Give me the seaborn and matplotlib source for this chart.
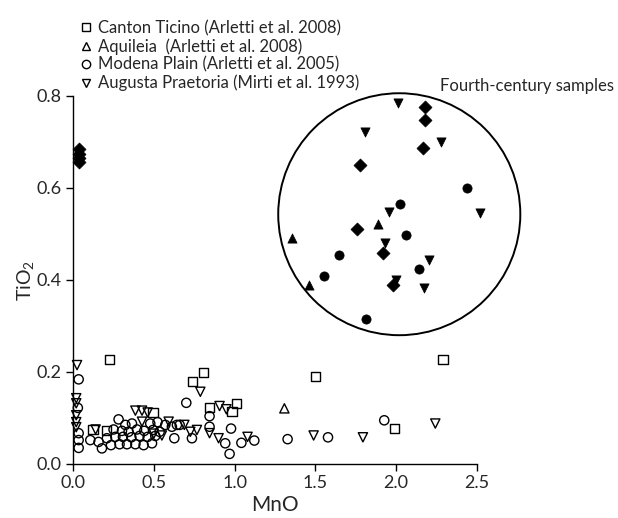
import matplotlib
matplotlib.use("Agg")
import matplotlib.pyplot as plt
import seaborn as sns
import pandas as pd
from matplotlib.patches import Ellipse
from matplotlib.lines import Line2D

# ---- data ----
canton_mno = [0.227, 0.808, 0.740, 1.010, 0.845, 0.984, 0.495, 0.124, 0.206, 1.500, 2.290, 1.990]
canton_tio2 = [0.228, 0.199, 0.179, 0.132, 0.123, 0.114, 0.112, 0.075, 0.072, 0.191, 0.228, 0.077]

aquileia_mno = [1.308]
aquileia_tio2 = [0.121]

modena_mno = [0.035, 0.030, 0.035, 0.035, 0.035, 0.107, 0.158, 0.179, 0.210, 0.235, 0.251, 0.262,
              0.282, 0.288, 0.303, 0.309, 0.324, 0.334, 0.344, 0.361, 0.365, 0.386, 0.396, 0.412,
              0.437, 0.441, 0.462, 0.478, 0.489, 0.495, 0.509, 0.523, 0.536, 0.571, 0.612, 0.627,
              0.643, 0.660, 0.701, 0.736, 0.845, 0.845, 0.978, 0.942, 0.969, 1.042, 1.122, 1.328,
              1.578, 1.926]
modena_tio2 = [0.184, 0.122, 0.067, 0.052, 0.035, 0.052, 0.048, 0.034, 0.056, 0.041, 0.075, 0.059,
               0.097, 0.043, 0.072, 0.059, 0.085, 0.043, 0.070, 0.058, 0.088, 0.043, 0.075, 0.061,
               0.041, 0.072, 0.059, 0.088, 0.045, 0.074, 0.061, 0.091, 0.070, 0.085, 0.081, 0.056,
               0.085, 0.085, 0.133, 0.056, 0.104, 0.081, 0.077, 0.045, 0.022, 0.046, 0.051, 0.054,
               0.058, 0.095]

augusta_mno = [0.025, 0.020, 0.020, 0.020, 0.020, 0.020, 0.140, 0.386, 0.427, 0.462, 0.427, 0.550,
               0.500, 0.592, 0.689, 0.726, 0.767, 0.788, 0.907, 0.949, 0.845, 0.901, 1.080, 1.489,
               1.794, 2.242]
augusta_tio2 = [0.215, 0.143, 0.132, 0.106, 0.091, 0.080, 0.075, 0.116, 0.116, 0.112, 0.092, 0.062,
                0.066, 0.092, 0.085, 0.070, 0.074, 0.157, 0.126, 0.119, 0.067, 0.056, 0.059, 0.062,
                0.058, 0.088]

# fourth-century samples (filled symbols)
augusta4_mno = [2.013, 1.809, 2.279, 1.953, 2.520, 1.933, 2.200, 2.000, 2.170]
augusta4_tio2 = [0.785, 0.722, 0.701, 0.548, 0.545, 0.481, 0.443, 0.400, 0.382]
aquileia4_mno = [1.885, 1.355, 1.462]
aquileia4_tio2 = [0.522, 0.491, 0.389]
modena4_mno = [2.438, 2.025, 2.060, 1.648, 2.143, 1.555, 1.815]
modena4_tio2 = [0.601, 0.565, 0.498, 0.454, 0.424, 0.409, 0.315]
diamond_mno = [2.180, 2.180, 2.166, 1.774, 1.757, 1.916, 1.980, 0.035, 0.035, 0.035, 0.035]
diamond_tio2 = [0.776, 0.748, 0.688, 0.650, 0.510, 0.459, 0.390, 0.684, 0.674, 0.665, 0.656]

legend_labels = ["Canton Ticino (Arletti et al. 2008)",
                 "Aquileia  (Arletti et al. 2008)",
                 "Modena Plain (Arletti et al. 2005)",
                 "Augusta Praetoria (Mirti et al. 1993)"]
x_ticks = [0.0, 0.5, 1.0, 1.5, 2.0, 2.5]
y_ticks = [0.0, 0.2, 0.4, 0.6, 0.8]

# ---- style ----
sns.set_theme(style="ticks")
plt.rcParams['font.family'] = ['Lato', 'DejaVu Sans']
plt.rcParams['mathtext.fontset'] = 'custom'
plt.rcParams['mathtext.rm'] = 'Lato'

fig = plt.figure(figsize=(6.18, 5.18), dpi=100)
ax = fig.add_axes([73/618, 1-464/518, (477-73)/618, (464-96)/518])

open_kw = dict(facecolor="none", edgecolor="black", linewidth=1.0, s=44, clip_on=False, legend=False)
fill_kw = dict(color="black", edgecolor="black", linewidth=0.5, s=44, clip_on=False, legend=False)

sns.scatterplot(x=modena_mno, y=modena_tio2, marker="o", ax=ax, **open_kw)
sns.scatterplot(x=augusta_mno, y=augusta_tio2, marker="v", ax=ax, **open_kw)
sns.scatterplot(x=canton_mno, y=canton_tio2, marker="s", ax=ax, **open_kw)
sns.scatterplot(x=aquileia_mno, y=aquileia_tio2, marker="^", ax=ax, **open_kw)

sns.scatterplot(x=augusta4_mno, y=augusta4_tio2, marker="v", ax=ax, **fill_kw)
sns.scatterplot(x=aquileia4_mno, y=aquileia4_tio2, marker="^", ax=ax, **fill_kw)
sns.scatterplot(x=modena4_mno, y=modena4_tio2, marker="o", ax=ax, **fill_kw)
sns.scatterplot(x=diamond_mno, y=diamond_tio2, marker="D", ax=ax, **fill_kw)

ax.set_xlim(0, 2.5)
ax.set_ylim(0, 0.8)
ax.set_xticks(x_ticks)
ax.set_yticks(y_ticks)
ax.set_xticklabels([f"{v:.1f}" for v in x_ticks], fontsize=13)
ax.set_yticklabels([f"{v:.1f}" for v in y_ticks], fontsize=13)
ax.tick_params(direction="out", length=5, width=1, color="black", pad=3)
for s in ["top", "right"]:
    ax.spines[s].set_visible(False)
for s in ["left", "bottom"]:
    ax.spines[s].set_color("black")
    ax.spines[s].set_linewidth(1.0)

ax.set_xlabel("MnO", fontsize=15, labelpad=3)
ax.set_ylabel("TiO$_2$", fontsize=14)
ax.yaxis.set_label_coords(-0.088, 0.5)

circle = Ellipse((2.019, 0.543), width=1.498, height=0.526, fill=False,
                 edgecolor="black", linewidth=1.4, clip_on=False)
ax.add_patch(circle)
ax.text(2.273, 0.822, "Fourth-century samples", fontsize=12, va="center", ha="left",
        clip_on=False)

handles = [Line2D([], [], linestyle="none", marker=m, markersize=6, markerfacecolor="none",
                  markeredgecolor="black", markeredgewidth=1.0) for m in ["s", "^", "o", "v"]]
fig.legend(handles, legend_labels, loc="upper left", bbox_to_anchor=(80/618, 1-20/518),
           frameon=False, borderpad=0, borderaxespad=0, handlelength=0.7, handletextpad=0.4,
           labelspacing=0.12, fontsize=12)

fig.savefig("out.png", dpi=100)
